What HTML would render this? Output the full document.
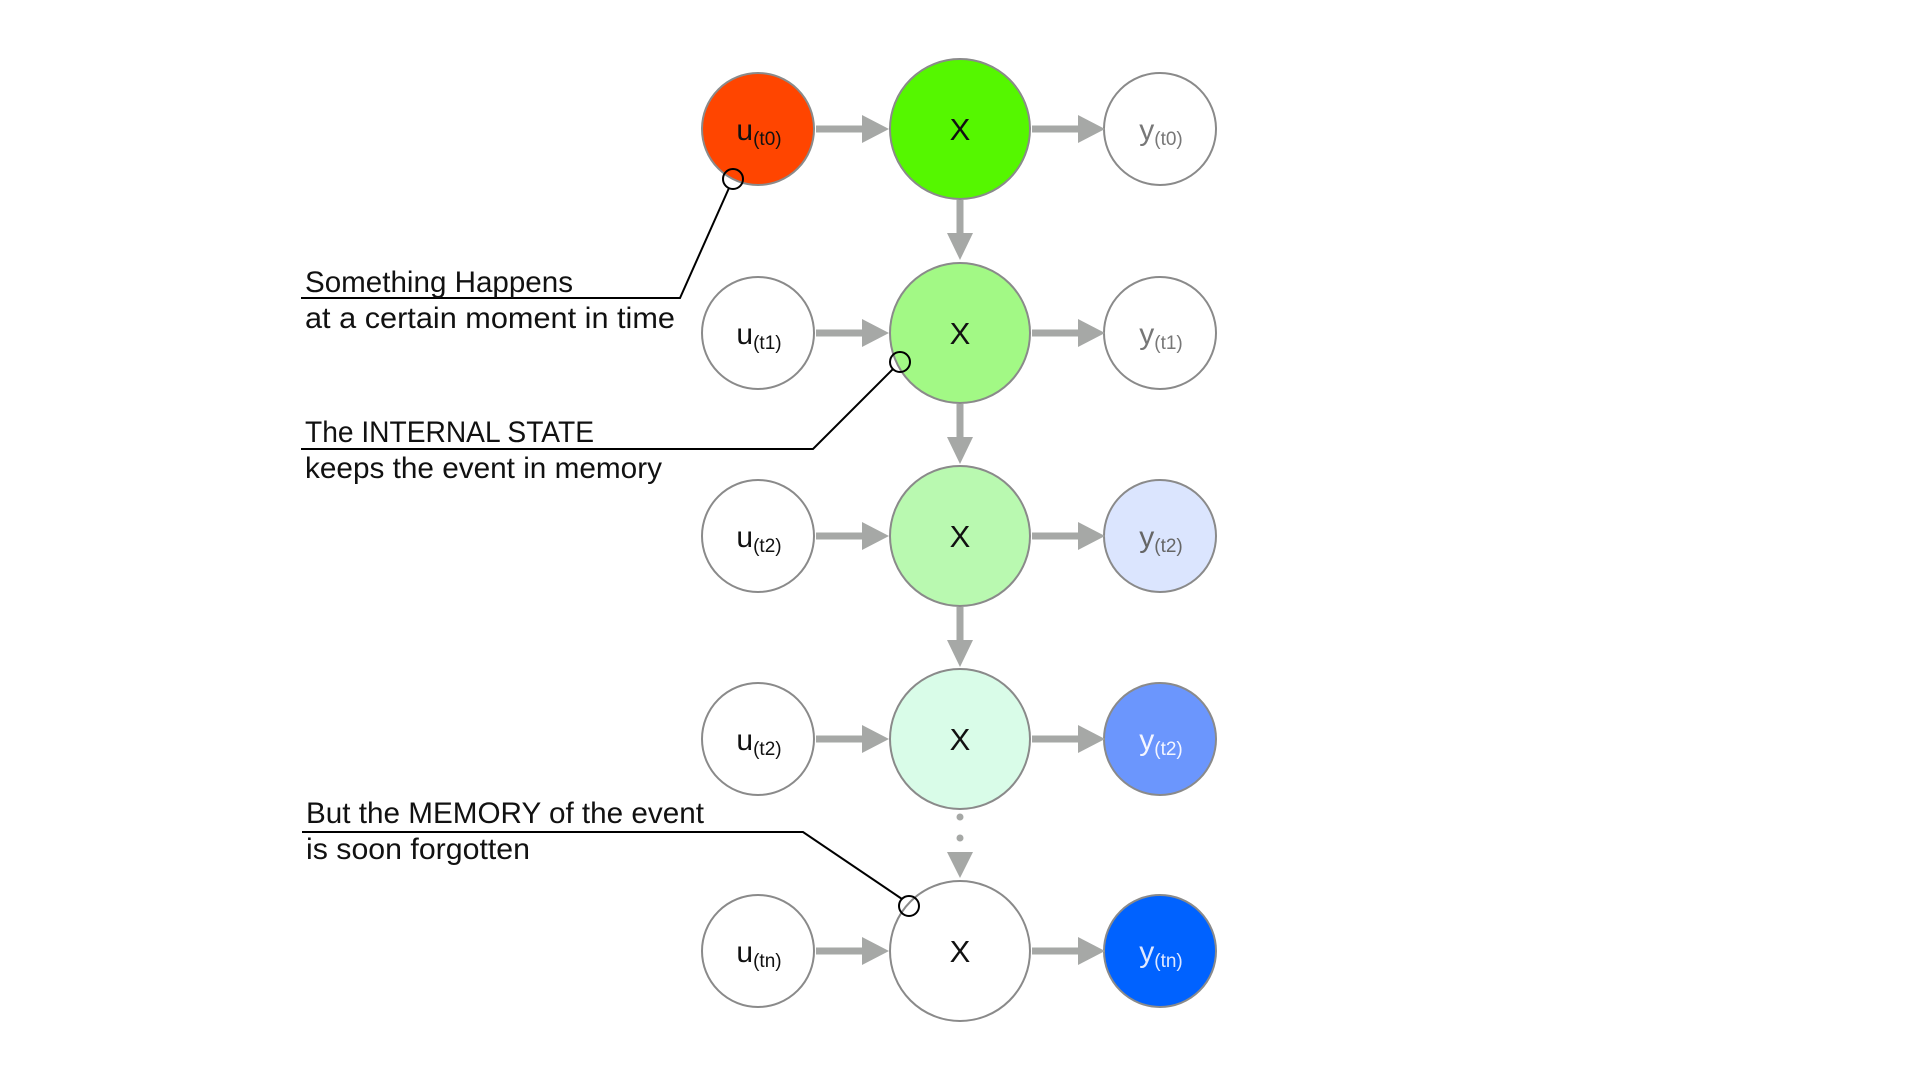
<!DOCTYPE html>
<html><head><meta charset="utf-8"><style>
html,body{margin:0;padding:0;background:#fff;}
svg{display:block;}
.lab{font-family:"Liberation Sans Narrow","Liberation Sans",sans-serif;font-size:30px;fill:#111;}
.n{font-family:"Liberation Sans",sans-serif;}
</style></head><body>
<svg width="1920" height="1080" viewBox="0 0 1920 1080" xmlns="http://www.w3.org/2000/svg">
<defs>
<g id="ha"><rect x="0" y="-3.5" width="48" height="7" fill="#a6a8a6"/><polygon points="46,-14 73,0 46,14" fill="#a6a8a6"/></g>
<g id="va"><rect x="-3.5" y="0" width="7" height="36" fill="#a6a8a6"/><polygon points="-13,33 13,33 0,60" fill="#a6a8a6"/></g>
</defs>
<g stroke="#8a8a8a" stroke-width="2">
<!-- row 0 -->
<circle cx="758" cy="129" r="56" fill="#ff4500"/>
<circle cx="960" cy="129" r="70" fill="#55f700"/>
<circle cx="1160" cy="129" r="56" fill="#fff"/>
<!-- row 1 -->
<circle cx="758" cy="333" r="56" fill="#fff"/>
<circle cx="960" cy="333" r="70" fill="#a2f985"/>
<circle cx="1160" cy="333" r="56" fill="#fff"/>
<!-- row 2 -->
<circle cx="758" cy="536" r="56" fill="#fff"/>
<circle cx="960" cy="536" r="70" fill="#b9f9b0"/>
<circle cx="1160" cy="536" r="56" fill="#dbe5fe"/>
<!-- row 3 -->
<circle cx="758" cy="739" r="56" fill="#fff"/>
<circle cx="960" cy="739" r="70" fill="#d9fce8"/>
<circle cx="1160" cy="739" r="56" fill="#6b96fd"/>
<!-- row 4 -->
<circle cx="758" cy="951" r="56" fill="#fff"/>
<circle cx="960" cy="951" r="70" fill="#fff"/>
<circle cx="1160" cy="951" r="56" fill="#0062ff"/>
</g>
<!-- horizontal arrows -->
<use href="#ha" x="816" y="129"/><use href="#ha" x="1032" y="129"/>
<use href="#ha" x="816" y="333"/><use href="#ha" x="1032" y="333"/>
<use href="#ha" x="816" y="536"/><use href="#ha" x="1032" y="536"/>
<use href="#ha" x="816" y="739"/><use href="#ha" x="1032" y="739"/>
<use href="#ha" x="816" y="951"/><use href="#ha" x="1032" y="951"/>
<!-- vertical arrows -->
<use href="#va" x="960" y="200"/>
<use href="#va" x="960" y="404"/>
<use href="#va" x="960" y="607"/>
<circle cx="960" cy="817" r="3.5" fill="#a6a8a6"/>
<circle cx="960" cy="838" r="3.5" fill="#a6a8a6"/>
<polygon points="947,852 973,852 960,878" fill="#a6a8a6"/>
<!-- node labels -->
<g class="n" text-anchor="middle">
<text x="759" y="140" font-size="30" fill="#111">u<tspan font-size="19" dy="5">(t0)</tspan></text>
<text x="759" y="344" font-size="30" fill="#111">u<tspan font-size="19" dy="5">(t1)</tspan></text>
<text x="759" y="547" font-size="30" fill="#111">u<tspan font-size="19" dy="5">(t2)</tspan></text>
<text x="759" y="750" font-size="30" fill="#111">u<tspan font-size="19" dy="5">(t2)</tspan></text>
<text x="759" y="962" font-size="30" fill="#111">u<tspan font-size="19" dy="5">(tn)</tspan></text>
<text x="960" y="140" font-size="31" fill="#111">X</text>
<text x="960" y="344" font-size="31" fill="#111">X</text>
<text x="960" y="547" font-size="31" fill="#111">X</text>
<text x="960" y="750" font-size="31" fill="#111">X</text>
<text x="960" y="962" font-size="31" fill="#111">X</text>
<text x="1161" y="140" font-size="30" fill="#777">y<tspan font-size="19" dy="5">(t0)</tspan></text>
<text x="1161" y="344" font-size="30" fill="#777">y<tspan font-size="19" dy="5">(t1)</tspan></text>
<text x="1161" y="547" font-size="30" fill="#666">y<tspan font-size="19" dy="5">(t2)</tspan></text>
<text x="1161" y="750" font-size="30" fill="#f4f6ff">y<tspan font-size="19" dy="5">(t2)</tspan></text>
<text x="1161" y="962" font-size="30" fill="#dfe8ff">y<tspan font-size="19" dy="5">(tn)</tspan></text>
</g>
<!-- callouts -->
<g fill="none" stroke="#000" stroke-width="2">
<polyline points="301,298 680,298 729,188"/>
<circle cx="733" cy="179" r="10"/>
<polyline points="301,449 813,449 893,369"/>
<circle cx="900" cy="362" r="10"/>
<polyline points="302,832 803,832 902,899"/>
<circle cx="909" cy="906" r="10"/>
</g>
<text class="lab" x="305" y="292" textLength="268" lengthAdjust="spacingAndGlyphs">Something Happens</text>
<text class="lab" x="305" y="328" textLength="370" lengthAdjust="spacingAndGlyphs">at a certain moment in time</text>
<text class="lab" x="305" y="442" textLength="289" lengthAdjust="spacingAndGlyphs">The INTERNAL STATE</text>
<text class="lab" x="305" y="478" textLength="357" lengthAdjust="spacingAndGlyphs">keeps the event in memory</text>
<text class="lab" x="306" y="823" textLength="398" lengthAdjust="spacingAndGlyphs">But the MEMORY of the event</text>
<text class="lab" x="306" y="859" textLength="224" lengthAdjust="spacingAndGlyphs">is soon forgotten</text>
</svg>
</body></html>
